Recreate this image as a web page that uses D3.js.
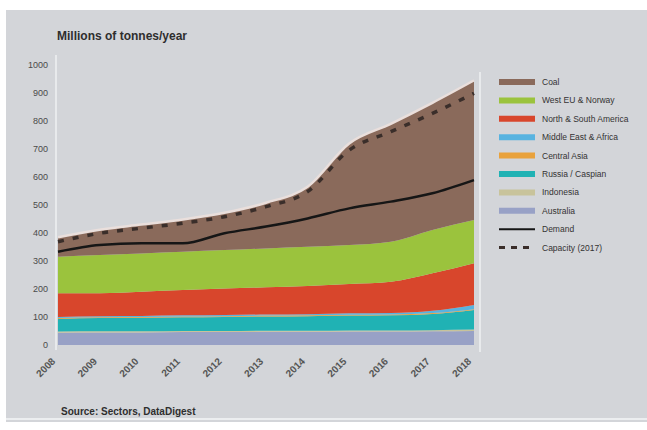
<!DOCTYPE html>
<html>
<head>
<meta charset="utf-8">
<script src="https://cdn.jsdelivr.net/npm/d3@7"></script>
<style>
  body { margin: 0; background: #ffffff; }
  svg { display: block; font-family: "Liberation Sans", Arial, sans-serif; }
</style>
</head>
<body>
<svg id="chart" width="647" height="430"></svg>
<script>
// data (millions of tonnes)
var years = ["2008", "2009", "2010", "2011", "2012", "2013", "2014", "2015", "2016", "2017", "2018"];
var australia  = [44, 45, 45, 46, 46, 47, 47, 48, 48, 49, 50];
var indonesia  = [4, 4, 4, 4, 4, 4, 4, 4, 4, 4, 5];
var russia     = [45, 47, 48, 49, 50, 51, 52, 53, 54, 58, 70];
var centralAsia = [3, 3, 3, 3, 3, 3, 3, 3, 3, 3, 3];
var middleEast = [4, 4, 4, 4, 4, 4, 4, 5, 5, 8, 15];
var americas   = [85, 82, 86, 90, 95, 97, 101, 105, 112, 134, 149];
var westEU     = [130, 136, 137, 137, 137, 139, 140, 139, 143, 155, 154];
var coal       = [70, 91, 103, 115, 133, 163, 214, 363, 421, 454, 499];
var demand     = [333, 357, 363, 363, 399, 423, 452, 488, 512, 542, 589];
var capacity   = [369, 399, 417, 435, 458, 494, 548, 696, 762, 827, 899];
var yTicks = [0, 100, 200, 300, 400, 500, 600, 700, 800, 900, 1000];

var seriesNames = ["Australia", "Indonesia", "Russia / Caspian", "Central Asia",
                   "Middle East & Africa", "North & South America", "West EU & Norway", "Coal"];
var seriesVals = [australia, indonesia, russia, centralAsia, middleEast, americas, westEU, coal];
var seriesCols = ["#98a1c6", "#c8c39b", "#20b2b4", "#e9a23c", "#58b3e0", "#d8462c", "#9bc33d", "#8a6a5b"];

var svg = d3.select("#chart");
var W = 647, H = 430;

// background panel
svg.append("rect").attr("x", 6).attr("y", 10).attr("width", W - 6).attr("height", H - 18).attr("fill", "#d3d5d9");
svg.append("line").attr("x1", 6).attr("x2", W).attr("y1", 419).attr("y2", 419)
  .attr("stroke", "#eceef0").attr("stroke-width", 2);

var x = d3.scalePoint().domain(years).range([58, 474]);
var y = d3.scaleLinear().domain([0, 1000]).range([345, 65]);

// plot borders
svg.append("line").attr("x1", 56).attr("x2", 56).attr("y1", 55).attr("y2", 350)
  .attr("stroke", "#e8eaec").attr("stroke-width", 2);
svg.append("line").attr("x1", 480).attr("x2", 480).attr("y1", 72).attr("y2", 352)
  .attr("stroke", "#e8eaec").attr("stroke-width", 2);

// stacked areas
var table = years.map(function(yr, i) {
  var row = { year: yr };
  seriesNames.forEach(function(n, k) { row[n] = seriesVals[k][i]; });
  return row;
});
var stack = d3.stack().keys(seriesNames)(table);

var area = d3.area()
  .x(function(d) { return x(d.data.year); })
  .y0(function(d) { return y(d[0]); })
  .y1(function(d) { return y(d[1]); })
  .curve(d3.curveMonotoneX);

svg.selectAll("path.layer").data(stack).enter().append("path")
  .attr("class", "layer")
  .attr("d", area)
  .attr("fill", function(d, k) { return seriesCols[k]; });

// light edge on top of the stack
var topLine = d3.line()
  .x(function(d) { return x(d.data.year); })
  .y(function(d) { return y(d[1]); })
  .curve(d3.curveMonotoneX);
svg.append("path").attr("d", topLine(stack[stack.length - 1]))
  .attr("fill", "none").attr("stroke", "#eadfdc").attr("stroke-width", 2.5);

var line = d3.line()
  .x(function(d, i) { return x(years[i]); })
  .y(function(d) { return y(d); })
  .curve(d3.curveMonotoneX);

svg.append("path").attr("d", line(demand))
  .attr("fill", "none").attr("stroke", "#161616").attr("stroke-width", 2.5);
svg.append("path").attr("d", line(capacity))
  .attr("fill", "none").attr("stroke", "#3a2e2a").attr("stroke-width", 3.5)
  .attr("stroke-dasharray", "6,9");

// y axis labels
svg.selectAll("text.ytick").data(yTicks).enter().append("text")
  .attr("class", "ytick")
  .attr("x", 48).attr("y", function(d) { return y(d) + 3; })
  .attr("text-anchor", "end")
  .attr("font-size", 9).attr("fill", "#4a4a4a")
  .text(function(d) { return d; });

// x axis labels
svg.selectAll("text.xtick").data(years).enter().append("text")
  .attr("class", "xtick")
  .attr("transform", function(d) { return "translate(" + (x(d) - 2) + ",362) rotate(-45)"; })
  .attr("text-anchor", "end")
  .attr("font-size", 10).attr("font-weight", "bold").attr("fill", "#555")
  .text(function(d) { return d; });

// title and source
svg.append("text").attr("x", 57).attr("y", 40)
  .attr("font-size", 12).attr("font-weight", "bold").attr("fill", "#2e2e2e")
  .text("Millions of tonnes/year");
svg.append("text").attr("x", 61).attr("y", 415)
  .attr("font-size", 10).attr("font-weight", "bold").attr("fill", "#2e2e2e")
  .text("Source: Sectors, DataDigest");

// legend
var legendItems = [
  { name: "Coal", col: "#8a6a5b", type: "area" },
  { name: "West EU & Norway", col: "#9bc33d", type: "area" },
  { name: "North & South America", col: "#d8462c", type: "area" },
  { name: "Middle East & Africa", col: "#58b3e0", type: "area" },
  { name: "Central Asia", col: "#e9a23c", type: "area" },
  { name: "Russia / Caspian", col: "#20b2b4", type: "area" },
  { name: "Indonesia", col: "#c8c39b", type: "area" },
  { name: "Australia", col: "#98a1c6", type: "area" },
  { name: "Demand", col: "#161616", type: "line" },
  { name: "Capacity (2017)", col: "#3a2e2a", type: "dash" }
];
var leg = svg.selectAll("g.leg").data(legendItems).enter().append("g")
  .attr("class", "leg")
  .attr("transform", function(d, i) { return "translate(499," + (82 + i * 18.4) + ")"; });
leg.append("line").attr("x1", 0).attr("x2", 36).attr("y1", 0).attr("y2", 0)
  .attr("stroke", function(d) { return d.col; })
  .attr("stroke-width", function(d) { return d.type === "area" ? 6 : (d.type === "line" ? 2 : 3); })
  .attr("stroke-dasharray", function(d) { return d.type === "dash" ? "6,6" : null; });
leg.append("text").attr("x", 43).attr("y", 3)
  .attr("font-size", 8.5).attr("fill", "#333")
  .text(function(d) { return d.name; });
</script>
</body>
</html>
